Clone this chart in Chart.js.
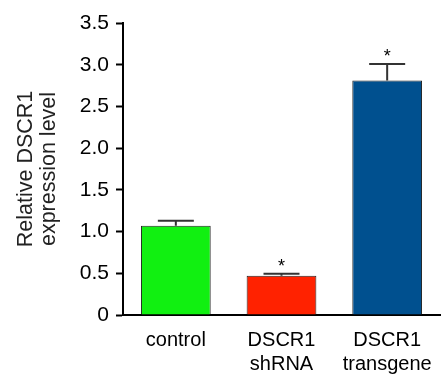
<!DOCTYPE html>
<html>
<head>
<meta charset="utf-8">
<script src="https://cdn.jsdelivr.net/npm/chart.js@4"></script>
<style>
  body { margin: 0; background: #fff; }
  #wrap { width: 447px; height: 381px; }
</style>
</head>
<body>
<div id="wrap"><canvas id="barChart"></canvas></div>
<script>
const categories = [['control'], ['DSCR1', 'shRNA'], ['DSCR1', 'transgene']];
const values = [1.07, 0.47, 2.81];
const errors = [0.06, 0.025, 0.2];
const significant = [false, true, true];
const barColors = ['#11f011', '#ff2200', '#00508f'];
const yTicks = [0, 0.5, 1.0, 1.5, 2.0, 2.5, 3.0, 3.5];

const FONT = '"Liberation Sans", Arial, sans-serif';

// error bars + asterisks, positioned through the chart scales
const errorBars = {
  id: 'errorBars',
  afterDatasetsDraw(chart) {
    const ctx = chart.ctx;
    const y = chart.scales.y;
    const meta = chart.getDatasetMeta(0);
    ctx.save();
    meta.data.forEach((bar, i) => {
      const top = y.getPixelForValue(values[i]);
      const hi = y.getPixelForValue(values[i] + errors[i]);
      ctx.strokeStyle = '#333';
      ctx.lineWidth = 2;
      ctx.beginPath();
      ctx.moveTo(bar.x, top);
      ctx.lineTo(bar.x, hi);
      ctx.moveTo(bar.x - 18, hi);
      ctx.lineTo(bar.x + 18, hi);
      ctx.stroke();
      if (significant[i]) {
        ctx.fillStyle = '#000';
        ctx.font = '18px ' + FONT;
        ctx.textAlign = 'center';
        ctx.textBaseline = 'alphabetic';
        ctx.fillText('*', bar.x, hi - 2);
      }
    });
    ctx.restore();
  }
};

const ctx = document.getElementById('barChart').getContext('2d');
const barChart = new Chart(ctx, {
  type: 'bar',
  data: {
    labels: categories,
    datasets: [{
      data: values,
      backgroundColor: barColors,
      borderColor: '#222',
      borderWidth: 1,
      categoryPercentage: 1.0,
      barPercentage: 0.66
    }]
  },
  options: {
    responsive: true,
    maintainAspectRatio: false,
    animation: false,
    layout: { padding: { top: 23, right: 7, left: 0, bottom: 0 } },
    plugins: { legend: { display: false }, tooltip: { enabled: false } },
    scales: {
      x: {
        grid: { display: false, drawTicks: false },
        border: { color: '#000', width: 2 },
        ticks: {
          color: '#000',
          padding: 13,
          maxRotation: 0,
          font: { family: FONT, size: 20, lineHeight: 1.2 }
        },
        afterFit(scale) {
          scale.height = 66;
          scale.paddingLeft = 0;
          scale.paddingRight = 0;
        }
      },
      y: {
        min: 0,
        max: 3.5,
        afterBuildTicks(scale) { scale.ticks = yTicks.map(v => ({ value: v })); },
        grid: { drawOnChartArea: false, drawTicks: true, tickLength: 7, color: '#000', tickWidth: 2 },
        border: { color: '#000', width: 2 },
        ticks: {
          color: '#000',
          padding: 7,
          font: { family: FONT, size: 21 },
          callback: v => v === 0 ? '0' : v.toFixed(1)
        },
        title: {
          display: true,
          text: ['Relative DSCR1', 'expression level'],
          color: '#222',
          padding: { top: 14, bottom: 0 },
          font: { family: FONT, size: 21.5, lineHeight: 1.1 }
        },
        afterFit(scale) {
          scale.width = 123;
          scale.paddingTop = 0;
          scale.paddingBottom = 0;
        }
      }
    }
  },
  plugins: [errorBars]
});
</script>
</body>
</html>
